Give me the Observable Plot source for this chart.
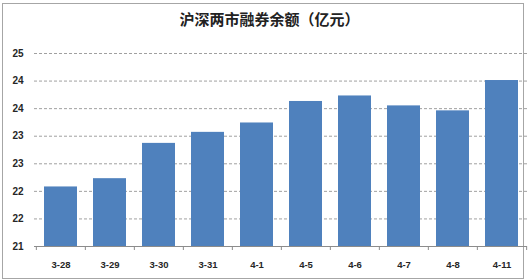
<!DOCTYPE html>
<html>
<head>
<meta charset="utf-8">
<script src="https://cdn.jsdelivr.net/npm/d3@7"></script>
<script src="https://cdn.jsdelivr.net/npm/@observablehq/plot@0.6"></script>
<style>
  html, body { margin: 0; padding: 0; background: #fff; }
  #wrap { position: relative; width: 529px; height: 280px; overflow: hidden; background: #fff; }
  #frame { position: absolute; left: 2px; top: 3px; width: 522px; height: 276px; box-sizing: border-box; border: 1px solid #a6a6a6; }
  #title { position: absolute; left: 5px; top: 8px; width: 529px; height: 22px; line-height: 22px; text-align: center;
           font-family: "Noto Sans CJK SC", sans-serif; font-weight: bold; font-size: 15px; color: #222; }
  #chart { position: absolute; left: 0; top: 38px; }
</style>
</head>
<body>
<div id="wrap">
  <div id="frame"></div>
  <div id="title">沪深两市融券余额（亿元）</div>
  <div id="chart"></div>
</div>
<script>
const categories = ["3-28", "3-29", "3-30", "3-31", "4-1", "4-5", "4-6", "4-7", "4-8", "4-11"];
const values = [22.08, 22.23, 22.87, 23.07, 23.24, 23.63, 23.73, 23.55, 23.46, 24.01];
const yTicks = [21, 21.5, 22, 22.5, 23, 23.5, 24, 24.5];
const yTickLabels = ["21", "22", "22", "23", "23", "24", "24", "25"];
const yMin = 21;
const yMax = 24.5;

const data = categories.map((c, i) => ({cat: c, value: values[i]}));

const W = 529, H = 242, mL = 34, mR = 2, mT = 15, mB = 34;
const step = (W - mL - mR) / categories.length;
const font = "'Liberation Sans', Arial, sans-serif";

const chart = Plot.plot({
  width: W,
  height: H,
  marginLeft: mL,
  marginRight: mR,
  marginTop: mT,
  marginBottom: mB,
  style: {fontFamily: font, background: "transparent", overflow: "visible"},
  x: {type: "band", domain: categories, padding: 0, label: null},
  y: {domain: [yMin, yMax], label: null},
  marks: [
    Plot.ruleY(yTicks.filter(t => t > yMin), {stroke: "#a0a0a0", strokeDasharray: "3,2", strokeWidth: 1}),
    Plot.barY(data, {x: "cat", y1: () => yMin, y2: "value", fill: "#4F81BD", insetLeft: 8, insetRight: 8}),
    Plot.ruleY([yMin], {stroke: "#8c8c8c", strokeWidth: 1}),
    Plot.ruleX(categories, {x: d => d, y1: () => yMin, y2: () => yMin, insetBottom: -4, dx: -step / 2, stroke: "#8c8c8c"}),
    Plot.ruleX(categories.slice(-1), {x: d => d, y1: () => yMin, y2: () => yMin, insetBottom: -4, dx: step / 2, stroke: "#8c8c8c"}),
    Plot.axisY(yTicks, {tickSize: 0, tickPadding: 11, tickFormat: (d, i) => yTickLabels[i], fontSize: 10, fontWeight: "bold", fill: "#262626"}),
    Plot.axisX(categories, {tickSize: 0, tickPadding: 15, fontSize: 9.5, fontWeight: "bold", fill: "#262626"})
  ]
});
document.getElementById("chart").appendChild(chart);
</script>
</body>
</html>
